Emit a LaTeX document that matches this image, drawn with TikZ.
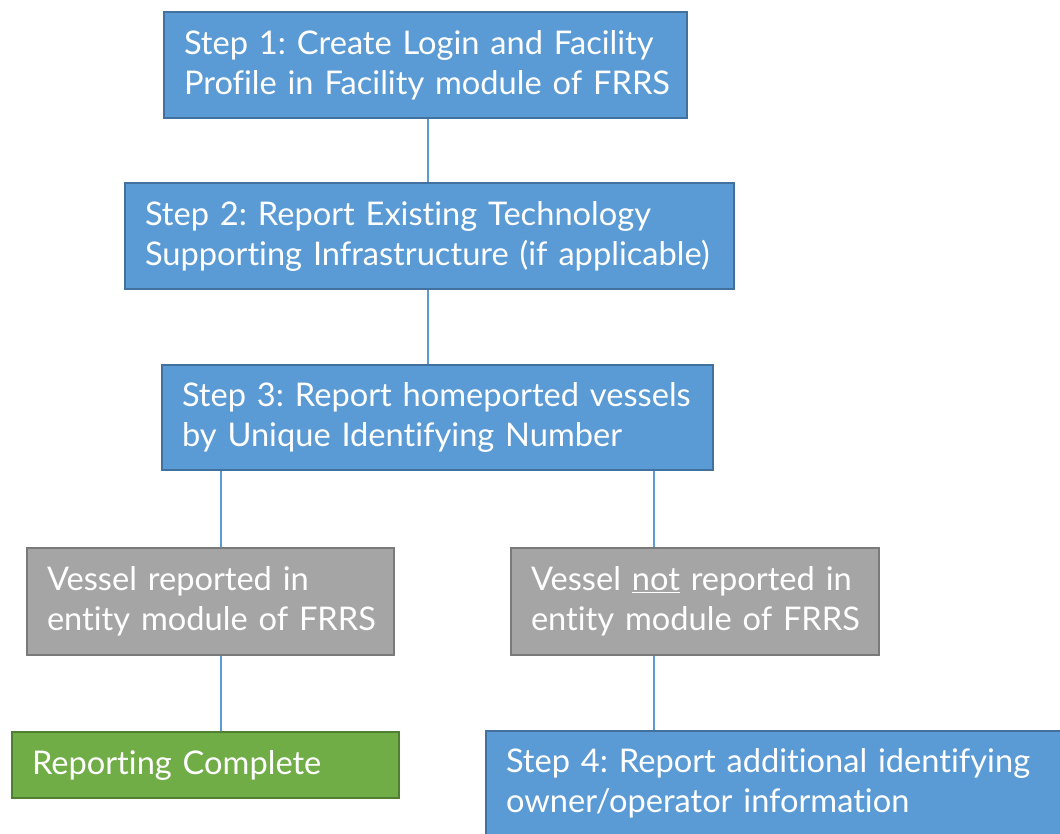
\documentclass[tikz,border=0pt]{standalone}
\usepackage{fontspec}
\setmainfont[Ligatures={NoCommon,NoRare,NoDiscretionary}]{Lato}
\definecolor{bfill}{HTML}{5B9BD5}
\definecolor{bdraw}{HTML}{41719C}
\definecolor{gfill}{HTML}{A5A5A5}
\definecolor{gdraw}{HTML}{7A7A7A}
\definecolor{grfill}{HTML}{70AD47}
\definecolor{grdraw}{HTML}{507E32}
\definecolor{conn}{HTML}{5B9BD5}
\tikzset{
  box/.style={draw, line width=2pt, text=white, align=left, inner xsep=20pt, inner ysep=0pt,
    font=\fontsize{32.6}{40}\selectfont\frenchspacing, anchor=north west},
  bluebox/.style={box, fill=bfill, draw=bdraw},
  graybox/.style={box, fill=gfill, draw=gdraw},
  greenbox/.style={box, fill=grfill, draw=grdraw},
  link/.style={draw=conn, line width=1.5pt}
}
\hfuzz=200pt
\begin{document}
\frenchspacing
\begin{tikzpicture}[x=1pt,y=-1pt]
\useasboundingbox (0,0) rectangle (1060,833);
\clip (0,0) rectangle (1060,833);
\fill[white] (0,0) rectangle (1060,833);
\node[bluebox, minimum width=523pt, minimum height=106pt, text width=483pt] (s1) at (163,11)
  {\mbox{Step 1: Create Login and Facility}\\\mbox{Profile in Facility module of FRRS}};
\node[bluebox, minimum width=609pt, minimum height=106pt, text width=569pt] (s2) at (124,182)
  {\mbox{Step 2: Report Existing Technology}\\\mbox{Supporting Infrastructure (if applicable)}};
\node[bluebox, minimum width=551pt, minimum height=105pt, text width=511pt] (s3) at (161,364)
  {\mbox{Step 3: Report homeported vessels}\\\mbox{by Unique Identifying Number}};
\node[graybox, minimum width=367pt, minimum height=107pt, text width=327pt] (v1) at (26,547)
  {\mbox{Vessel reported in}\\\mbox{entity module of FRRS}};
\node[graybox, minimum width=368pt, minimum height=107pt, text width=328pt] (v2) at (510,547)
  {\mbox{Vessel \underline{not} reported in}\\\mbox{entity module of FRRS}};
\node[greenbox, minimum width=387pt, minimum height=66pt, text width=347pt] (rc) at (11,731)
  {\mbox{Reporting Complete}};
\node[bluebox, minimum width=590pt, minimum height=104pt, text width=550pt] (s4) at (485,730)
  {\mbox{Step 4: Report additional identifying}\\\mbox{owner/operator information}};
\draw[link] (s1.south -| 428,0) -- (s2.north -| 428,0);
\draw[link] (s2.south -| 428,0) -- (s3.north -| 428,0);
\draw[link] (s3.south -| 221,0) -- (v1.north -| 221,0);
\draw[link] (s3.south -| 654,0) -- (v2.north -| 654,0);
\draw[link] (v1.south -| 221,0) -- (rc.north -| 221,0);
\draw[link] (v2.south -| 654,0) -- (s4.north -| 654,0);
\end{tikzpicture}
\end{document}
